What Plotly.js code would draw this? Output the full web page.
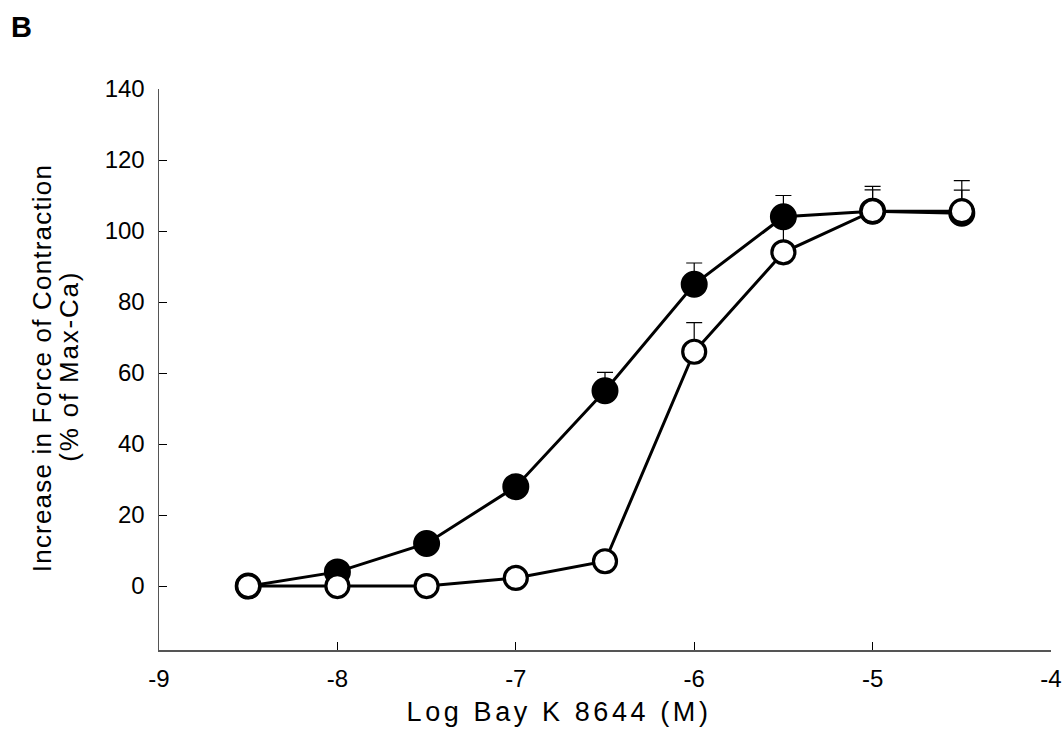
<!DOCTYPE html>
<html>
<head>
<meta charset="utf-8">
<script src="https://cdn.plot.ly/plotly-3.0.1.min.js"></script>
<style>
html,body{margin:0;padding:0;background:#fff;}
#chart{width:1064px;height:749px;}
#chart .annotation[data-index="1"] text{letter-spacing:3.6px;}
#chart .annotation[data-index="2"] text{letter-spacing:1.2px;}
#chart .annotation[data-index="3"] text{letter-spacing:1.8px;}
</style>
</head>
<body>
<div id="chart"></div>
<script>
// Log Bay K 8644 (M)
const logConc = [-8.5, -8, -7.5, -7, -6.5, -6, -5.5, -5, -4.5];
// Filled circles
const filledY   = [0, 4, 12, 28, 55, 85, 104, 105.6, 105];
const filledErr = [0, 0, 0, 0, 5.2, 6, 6, 7, 6.5];
// Open circles
const openY     = [0, 0, 0, 2.3, 7, 66, 94, 105.6, 105.6];
const openErr   = [0, 0, 0, 0, 0, 8.2, 9, 6, 8.6];

const xTicks = [-9, -8, -7, -6, -5, -4];
const yTicks = [0, 20, 40, 60, 80, 100, 120, 140];

const panelLabel = 'B';
const xTitle = 'Log Bay K 8644 (M)';
const yTitleLines = ['Increase in Force of Contraction', '(% of Max-Ca)'];

const fontFam = 'Arial, "Liberation Sans", sans-serif';

const filled = {
  x: logConc, y: filledY, type: 'scatter', mode: 'lines+markers',
  line: {color: '#000', width: 3},
  marker: {size: 25, color: '#000', line: {color: '#000', width: 2}},
  error_y: {type: 'data', array: filledErr, symmetric: false, arrayminus: filledErr.map(() => 0),
            color: '#000', thickness: 1.2, width: 8},
  showlegend: false, hoverinfo: 'x+y'
};
const open = {
  x: logConc, y: openY, type: 'scatter', mode: 'lines+markers',
  line: {color: '#000', width: 3},
  marker: {size: 23, color: '#fff', line: {color: '#000', width: 3.2}},
  error_y: {type: 'data', array: openErr, symmetric: false, arrayminus: openErr.map(() => 0),
            color: '#000', thickness: 1.2, width: 8},
  showlegend: false, hoverinfo: 'x+y'
};

const L = 159, T = 89, W = 892, H = 561;
const px = v => (v - L) / W;      // paper x from pixel
const py = v => 1 - (v - T) / H;  // paper y from pixel

const layout = {
  width: 1064, height: 749,
  margin: {l: L, r: 1064 - L - W, t: T, b: 749 - T - H, pad: 0},
  paper_bgcolor: '#fff', plot_bgcolor: '#fff',
  font: {family: fontFam, size: 22, color: '#000'},
  xaxis: {
    range: [-9, -4], tickvals: xTicks, ticktext: xTicks.map(String),
    showgrid: false, zeroline: false, showline: true, linecolor: '#555', linewidth: 1.5,
    ticks: 'inside', ticklen: 8, tickcolor: '#000', tickwidth: 1,
    tickfont: {size: 24}, ticklabelstandoff: 7
  },
  yaxis: {
    range: [-18, 140], tickvals: yTicks, ticktext: yTicks.map(String),
    showgrid: false, zeroline: false, showline: true, linecolor: '#555', linewidth: 1.5,
    ticks: 'inside', ticklen: 8, tickcolor: '#000', tickwidth: 1,
    tickfont: {size: 24}, ticklabelstandoff: 8
  },
  annotations: [
    {text: '<b>' + panelLabel + '</b>', xref: 'paper', yref: 'paper', x: px(9), y: py(27),
     xanchor: 'left', yanchor: 'middle', showarrow: false, font: {size: 29, color: '#000'}},
    {text: xTitle, xref: 'paper', yref: 'paper', x: px(559), y: py(712),
     xanchor: 'center', yanchor: 'middle', showarrow: false, font: {size: 27, color: '#000'}},
    {text: yTitleLines[0], xref: 'paper', yref: 'paper', x: px(42), y: py(368), textangle: -90,
     xanchor: 'center', yanchor: 'middle', showarrow: false, font: {size: 26, color: '#000'}},
    {text: yTitleLines[1], xref: 'paper', yref: 'paper', x: px(69), y: py(366), textangle: -90,
     xanchor: 'center', yanchor: 'middle', showarrow: false, font: {size: 26, color: '#000'}}
  ]
};

Plotly.newPlot('chart', [filled, open], layout, {displayModeBar: false, staticPlot: true});
</script>
</body>
</html>
